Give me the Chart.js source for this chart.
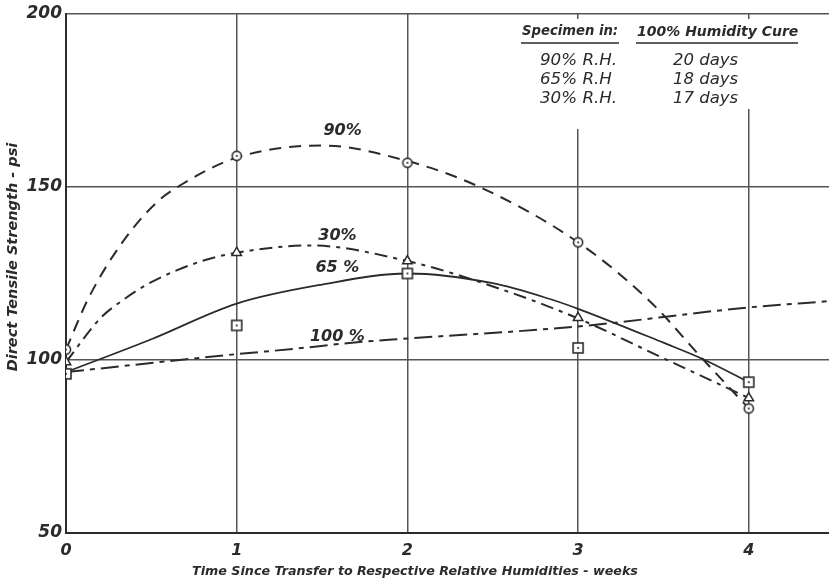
<!DOCTYPE html>
<html>
<head>
<meta charset="utf-8">
<script src="https://cdn.jsdelivr.net/npm/chart.js@4.4.1/dist/chart.umd.min.js"></script>
<style>
  html, body { margin: 0; padding: 0; background: #fff; }
  #wrap { width: 829px; height: 582px; }
</style>
</head>
<body>
<div id="wrap"><canvas id="grafico" width="829" height="582"></canvas></div>
<script>
// semanas y valores medidos (psi)
const semanas = [0, 1, 2, 3, 4];
const puntos_90 = [103, 159, 157, 134, 86];
const puntos_65 = [96, 110, 125, 103.5, 93.6];
const puntos_30 = [99.4, 131, 128.6, 112.2, 89];

// curvas trazadas a mano sobre los puntos
const curva_90_x = [0, 0.13, 0.33, 0.53, 0.67, 1, 1.5, 2, 2.41, 3, 3.42, 3.73, 4];
const curva_90_y = [103, 117.7, 134, 145.5, 150.5, 158.5, 162, 157.5, 150.3, 134, 117, 100.3, 86];
const curva_65_x = [0, 0.5, 1, 1.5, 2, 2.5, 2.83, 3, 3.5, 3.73, 4];
const curva_65_y = [96.5, 106, 116.3, 121.8, 125, 122.2, 117.7, 114.8, 105, 100.3, 93.6];
const curva_30_x = [0, 0.2, 0.33, 0.5, 0.79, 1, 1.43, 2, 2.54, 3, 3.5, 4];
const curva_30_y = [99.4, 112, 117.2, 122.5, 128.5, 131, 133.1, 128.6, 120.6, 112, 100.5, 89];
const curva_100_x = [0, 1, 1.33, 1.72, 2, 3, 4, 4.47];
const curva_100_y = [96.5, 101.7, 103.2, 105.2, 106.2, 109.7, 115.2, 117];

const ticks_x = [0, 1, 2, 3, 4];
const ticks_y = [50, 100, 150, 200];

const etiquetas_curva = [
  { texto: "90%", x: 1.62, y: 166.3 },
  { texto: "30%", x: 1.59, y: 135.8 },
  { texto: "65 %", x: 1.59, y: 126.5 },
  { texto: "100 %", x: 1.59, y: 106.7 }
];

const tabla_col1 = ["90% R.H.", "65% R.H", "30% R.H."];
const tabla_col2 = ["20 days", "18 days", "17 days"];

const tinta = "#2b2b2b";
const fuente = "'DejaVu Sans', sans-serif";

function pares(xs, ys) {
  return xs.map((x, i) => ({ x: x, y: ys[i] }));
}

// marcadores: circulo y cuadrado con punto central
function marcador(tipo) {
  let c = document.createElement("canvas");
  c.width = 14;
  c.height = 14;
  let g = c.getContext("2d");
  g.fillStyle = "#fff";
  g.strokeStyle = tinta;
  g.lineWidth = 1.6;
  if (tipo === "circulo") {
    g.beginPath();
    g.arc(7, 7, 4.6, 0, Math.PI * 2);
    g.fill();
    g.stroke();
  } else {
    g.fillRect(2, 2, 10, 10);
    g.strokeRect(2, 2, 10, 10);
  }
  g.fillStyle = tinta;
  g.beginPath();
  g.arc(7, 7, 1.1, 0, Math.PI * 2);
  g.fill();
  return c;
}

function curva(datos, dash, ancho) {
  return {
    type: "line",
    data: datos,
    borderColor: tinta,
    borderWidth: ancho,
    borderDash: dash,
    pointRadius: 0,
    cubicInterpolationMode: "monotone",
    fill: false,
    order: 2
  };
}

function puntos(ys, estilo, radio) {
  return {
    type: "line",
    data: pares(semanas, ys),
    showLine: false,
    pointStyle: estilo,
    pointRadius: radio,
    pointBackgroundColor: "#fff",
    pointBorderColor: tinta,
    pointBorderWidth: 1.5,
    order: 1
  };
}

// tamaño de letra para que el texto ocupe el ancho pedido
function tam_ancho(ctx, texto, ancho, estilo) {
  ctx.font = estilo + " 20px " + fuente;
  return 20 * ancho / ctx.measureText(texto).width;
}

function texto_ancho(ctx, texto, x, y, ancho, estilo) {
  let t = tam_ancho(ctx, texto, ancho, estilo);
  ctx.font = estilo + " " + t.toFixed(1) + "px " + fuente;
  ctx.fillText(texto, x, y);
}

// textos dentro del grafico y tabla de la esquina
const textos = {
  id: "textos",
  afterDraw(chart) {
    let ctx = chart.ctx;
    let sx = chart.scales.x;
    let sy = chart.scales.y;
    ctx.save();

    // las lineas de 3 y 4 semanas no pasan por la tabla
    ctx.fillStyle = "#fff";
    ctx.fillRect(sx.getPixelForValue(3) - 3, 19, 6, 110);
    ctx.fillRect(sx.getPixelForValue(4) - 3, 19, 6, 90);

    ctx.fillStyle = tinta;
    ctx.textBaseline = "middle";
    ctx.textAlign = "center";
    ctx.font = "oblique 600 16px " + fuente;
    etiquetas_curva.forEach(e => {
      ctx.fillText(e.texto, sx.getPixelForValue(e.x), sy.getPixelForValue(e.y));
    });

    // tabla
    ctx.textAlign = "left";
    texto_ancho(ctx, "Specimen in:", 522, 32, 96, "oblique 600");
    texto_ancho(ctx, "100% Humidity Cure", 637, 32, 161, "oblique 600");
    ctx.strokeStyle = tinta;
    ctx.lineWidth = 1.5;
    ctx.beginPath();
    ctx.moveTo(521, 43);
    ctx.lineTo(619, 43);
    ctx.moveTo(636, 43);
    ctx.lineTo(798, 43);
    ctx.stroke();
    let t1 = tam_ancho(ctx, tabla_col1[0], 77, "oblique");
    let t2 = tam_ancho(ctx, tabla_col2[0], 65, "oblique");
    for (let i = 0; i < tabla_col1.length; i++) {
      ctx.font = "oblique " + t1.toFixed(1) + "px " + fuente;
      ctx.fillText(tabla_col1[i], 540, 61 + i * 19);
      ctx.font = "oblique " + t2.toFixed(1) + "px " + fuente;
      ctx.fillText(tabla_col2[i], 673, 61 + i * 19);
    }

    // titulos de ejes
    ctx.textAlign = "center";
    texto_ancho(ctx, "Time Since Transfer to Respective Relative Humidities - weeks", 415, 572, 445, "oblique bold");
    ctx.translate(13, 257);
    ctx.rotate(-Math.PI / 2);
    texto_ancho(ctx, "Direct Tensile Strength - psi", 0, 0, 229, "oblique bold");
    ctx.restore();
  }
};

let ctx = document.getElementById("grafico").getContext("2d");
new Chart(ctx, {
  data: {
    datasets: [
      curva(pares(curva_90_x, curva_90_y), [12, 8], 2),
      curva(pares(curva_65_x, curva_65_y), [], 1.8),
      curva(pares(curva_30_x, curva_30_y), [13, 6, 4, 6], 2),
      curva(pares(curva_100_x, curva_100_y), [18, 6, 5, 6], 2),
      puntos(puntos_90, marcador("circulo"), 6),
      puntos(puntos_65, marcador("cuadrado"), 6),
      puntos(puntos_30, "triangle", 5.5)
    ]
  },
  options: {
    responsive: false,
    animation: false,
    layout: { autoPadding: false, padding: { top: 14, right: 0, left: 0, bottom: 0 } },
    plugins: {
      legend: { display: false },
      tooltip: { enabled: false }
    },
    scales: {
      x: {
        type: "linear",
        min: 0,
        max: 4.47,
        afterBuildTicks: s => { s.ticks = ticks_x.map(v => ({ value: v })); },
        afterFit: s => { s.height = 49; s.paddingLeft = 0; s.paddingRight = 0; },
        grid: { color: "#555", lineWidth: 1.5, drawTicks: false },
        border: { display: true, color: tinta, width: 2 },
        ticks: {
          padding: 8,
          color: tinta,
          font: { family: fuente, size: 16, style: "oblique", weight: "bold" }
        }
      },
      y: {
        type: "linear",
        min: 50,
        max: 200,
        afterBuildTicks: s => { s.ticks = ticks_y.map(v => ({ value: v })); },
        afterFit: s => { s.width = 66; s.paddingTop = 0; s.paddingBottom = 0; },
        grid: { color: "#555", lineWidth: 1.5, drawTicks: false },
        border: { display: true, color: tinta, width: 2 },
        ticks: {
          padding: 4,
          color: tinta,
          font: { family: fuente, size: 17, style: "oblique", weight: "bold" }
        }
      }
    }
  },
  plugins: [textos]
});
</script>
</body>
</html>
